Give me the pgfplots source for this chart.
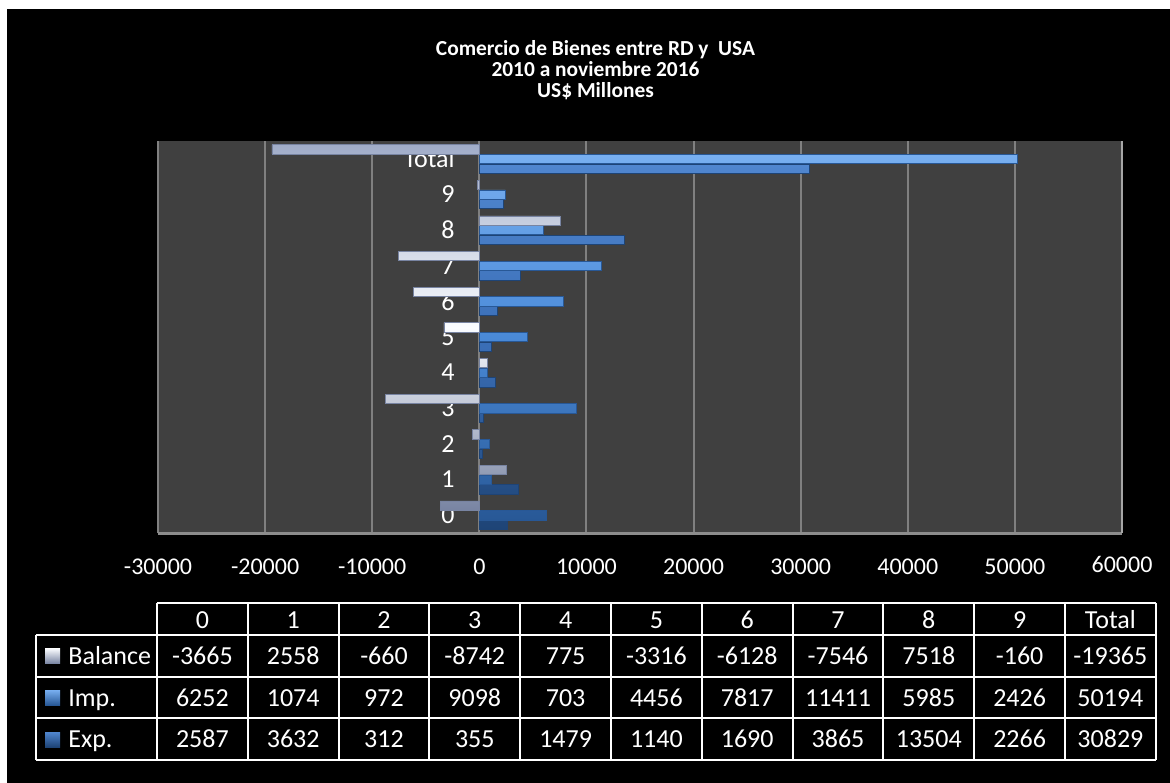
\documentclass[border=0pt]{standalone}
\usepackage{pgfplots}
\pgfplotsset{compat=1.18}
\usepackage{fontspec}
\setmainfont{Carlito}

\definecolor{plotbg}{RGB}{64,64,64}
\definecolor{gridc}{RGB}{128,128,128}
\definecolor{axisc}{RGB}{140,140,140}
\definecolor{rightc}{RGB}{166,166,166}
\definecolor{expT}{RGB}{80,134,207}
\definecolor{expM}{RGB}{58,110,182}
\definecolor{expB}{RGB}{30,68,118}
\definecolor{impT}{RGB}{120,175,240}
\definecolor{impM}{RGB}{74,138,216}
\definecolor{impB}{RGB}{40,88,150}
\definecolor{balT}{RGB}{160,172,200}
\definecolor{balM}{RGB}{250,252,255}
\definecolor{balB}{RGB}{120,132,162}

\pgfplotstableread{
y   exp    imp    bal
0   2587   6252   -3665
1   3632   1074   2558
2   312    972    -660
3   355    9098   -8742
4   1479   703    775
5   1140   4456   -3316
6   1690   7817   -6128
7   3865   11411  -7546
8   13504  5985   7518
9   2266   2426   -160
10  30829  50194  -19365
}\datatable

\begin{document}
\begin{tikzpicture}
\useasboundingbox (0,0) rectangle (585pt,391pt);
\fill[white] (0,0) rectangle (585pt,391pt);
\fill[black] (3.5pt,-5pt) rectangle (590pt,386.5pt);
\node[text=white, align=center, font=\bfseries\fontsize{10.7}{10.5}\selectfont] at (297.75pt,356pt)
  {Comercio de Bienes entre RD y \ USA\\2010 a noviembre 2016\\US\$ Millones};
\begin{axis}[
  at={(79pt,124.5pt)}, anchor=south west, scale only axis,
  width=482pt, height=196pt,
  xmin=-30000, xmax=60000, ymin=-0.5, ymax=10.5,
  axis line style={draw=none},
  axis background/.style={fill=plotbg},
  scaled x ticks=false,
  xtick={-30000,-20000,-10000,0,10000,20000,30000,40000,50000},
  xticklabels={-30000,-20000,-10000,0,10000,20000,30000,40000,50000},
  ytick={0,1,2,3,4,5,6,7,8,9,10},
  yticklabels={0,1,2,3,4,5,6,7,8,9,Total},
  major tick length=0pt,
  xmajorgrids, major grid style={draw=gridc, line width=1pt},
  xticklabel style={text=white, font=\fontsize{12}{14}\selectfont, anchor=north, yshift=-9.5pt},
  yticklabel style={text=white, font=\fontsize{13}{15}\selectfont, anchor=east, xshift=151.85pt},
  bar width=0.26,
  clip=false,
  after end axis/.code={
    \draw[axisc, line width=1.5pt] (rel axis cs:0,0) -- (rel axis cs:1,0);
    \draw[rightc, line width=1pt] (rel axis cs:1,0) -- (rel axis cs:1,1);
    \node[text=white, font=\fontsize{12}{14}\selectfont, anchor=base] at ([yshift=-19.7pt]rel axis cs:1,0) {60000};
  },
]
\addplot[xbar, bar shift=-0.27, draw=expB, line width=0.3pt, top color=expT, bottom color=expB, middle color=expM]
  table[x=exp, y=y] {\datatable};
\addplot[xbar, bar shift=0, draw=impB, line width=0.3pt, top color=impT, bottom color=impB, middle color=impM]
  table[x=imp, y=y] {\datatable};
\addplot[xbar, bar shift=0.27, draw=balB, line width=0.3pt, top color=balT, bottom color=balB, middle color=balM]
  table[x=bal, y=y] {\datatable};
\end{axis}

% data table
\begin{scope}[white, line width=1pt]
  \draw (78.5pt,89.5pt) -- (578pt,89.5pt);
  \foreach \yy in {73.5,52.5,32,11} \draw (18pt,\yy pt) -- (578pt,\yy pt);
  \draw (18pt,73.5pt) -- (18pt,11pt);
  \foreach \k in {0,...,11} \draw ({78.5pt+45.4pt*\k},89.5pt) -- ({78.5pt+45.4pt*\k},11pt);
\end{scope}
\begin{scope}[every node/.style={text=white, font=\fontsize{13}{15}\selectfont, anchor=base, inner sep=0pt}]
  \foreach \v [count=\i from 0] in {0,1,2,3,4,5,6,7,8,9,Total}
    \node at ({78.5pt+45.4pt*(\i+0.5)},77pt) {\v};
  \foreach \v [count=\i from 0] in {-3665,2558,-660,-8742,775,-3316,-6128,-7546,7518,-160,-19365}
    \node at ({78.5pt+45.4pt*(\i+0.5)},59pt) {\v};
  \foreach \v [count=\i from 0] in {6252,1074,972,9098,703,4456,7817,11411,5985,2426,50194}
    \node at ({78.5pt+45.4pt*(\i+0.5)},38pt) {\v};
  \foreach \v [count=\i from 0] in {2587,3632,312,355,1479,1140,1690,3865,13504,2266,30829}
    \node at ({78.5pt+45.4pt*(\i+0.5)},17.5pt) {\v};
  \node[anchor=base west] at (34pt,59pt) {Balance};
  \node[anchor=base west] at (34pt,38pt) {Imp.};
  \node[anchor=base west] at (34pt,17.5pt) {Exp.};
\end{scope}
\shade[top color=balM, bottom color=balB] (22.5pt,59.25pt) rectangle (30pt,66.75pt);
\shade[top color=impT, bottom color=impB] (22.5pt,38.5pt) rectangle (30pt,46pt);
\shade[top color=expT, bottom color=expB] (22.5pt,17.5pt) rectangle (30pt,25pt);
\end{tikzpicture}
\end{document}
